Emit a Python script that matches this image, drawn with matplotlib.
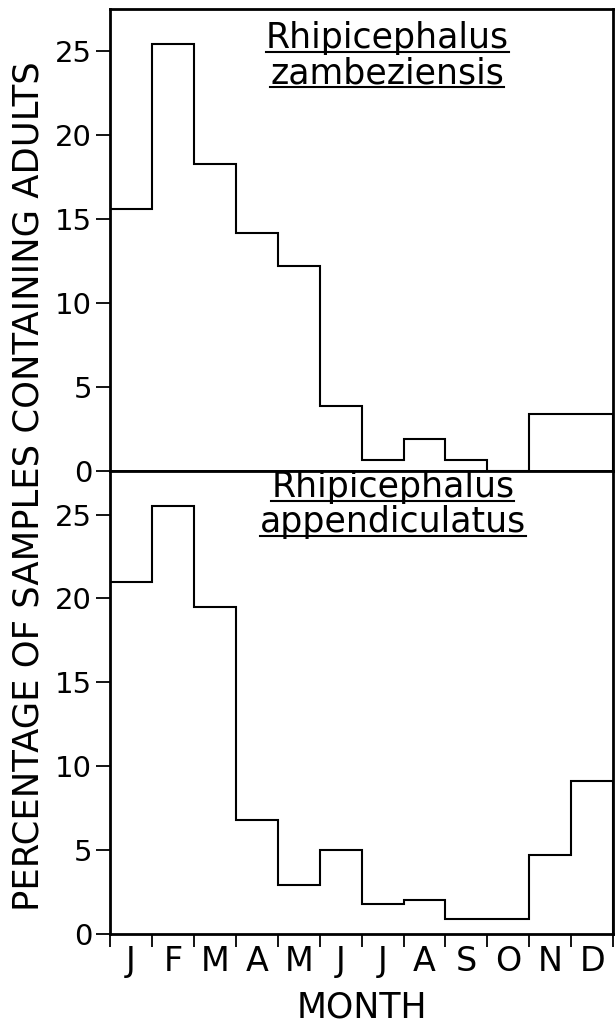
import numpy as np
import matplotlib as mpl
mpl.use('Agg')
import matplotlib.pyplot as plt
from matplotlib.lines import Line2D

plt.rc('font', family='DejaVu Sans')

# -----------------------------------------------------------
# data (percentage of samples containing adults)
months = ['J', 'F', 'M', 'A', 'M', 'J', 'J', 'A', 'S', 'O', 'N', 'D']
zambeziensis = [15.6, 25.4, 18.3, 14.2, 12.2, 3.9, 0.65, 1.9, 0.65, 0.0, 3.4, 3.4]
appendiculatus = [21.0, 25.5, 19.5, 6.8, 2.9, 5.0, 1.8, 2.0, 0.9, 0.9, 4.7, 9.1]
genus = 'Rhipicephalus'
species = ['zambeziensis', 'appendiculatus']
yticks = [0, 5, 10, 15, 20, 25]

fig = plt.figure(figsize=(6.15, 10.24), dpi=100)
ax_top = fig.add_axes([0.179, 0.540, 0.818, 0.451])
ax_bot = fig.add_axes([0.179, 0.088, 0.818, 0.452])

edges = np.arange(len(months) + 1)
title_fs = 25

# -----------------------------------------------------------
def draw_panel(ax, values, name, ymax, tx, ty):
    ax.stairs(values, edges, baseline=0, color='black', lw=1.5)
    ax.set_xlim(0, 12)
    ax.set_ylim(0, ymax)
    ax.set_yticks(yticks)
    ax.tick_params(axis='y', direction='out', length=10, width=1.3, pad=3,
                   labelsize=21)
    for sp in ax.spines.values():
        sp.set_linewidth(2.0)
    # two title lines, baseline anchored so they can be underlined
    ax.text(tx, ty, genus, transform=ax.transAxes, ha='center',
            va='baseline', fontsize=title_fs)
    ax.text(tx, ty - 0.076, name, transform=ax.transAxes, ha='center',
            va='baseline', fontsize=title_fs)

draw_panel(ax_top, zambeziensis, species[0], 27.5, 0.551, 0.916)
draw_panel(ax_bot, appendiculatus, species[1], 27.6, 0.562, 0.944)

ax_top.tick_params(axis='x', bottom=False, labelbottom=False)

ax_bot.set_xticks(edges)
ax_bot.set_xticklabels([])
ax_bot.set_xticks(edges[:-1] + 0.5, minor=True)
ax_bot.set_xticklabels(months, minor=True)
ax_bot.tick_params(axis='x', which='major', direction='out', length=9, width=1.3)
ax_bot.tick_params(axis='x', which='minor', length=0, labelsize=24, pad=8)
ax_bot.set_xlabel('MONTH', fontsize=25, labelpad=9)

fig.text(0.046, 0.525, 'PERCENTAGE OF SAMPLES CONTAINING ADULTS', rotation=90,
         ha='center', va='center', fontsize=25.5)

# underline the species names, a few pixels below each baseline
fig.canvas.draw()
renderer = fig.canvas.get_renderer()
W, H = fig.bbox.width, fig.bbox.height
for ax in (ax_top, ax_bot):
    for txt in ax.texts:
        bb = txt.get_window_extent(renderer)
        base = ax.transAxes.transform(txt.get_position())[1]
        y = (base - 4) / H
        fig.add_artist(Line2D([bb.x0 / W, bb.x1 / W], [y, y],
                              color='black', lw=1.5))

plt.savefig('out.png', dpi=100)
